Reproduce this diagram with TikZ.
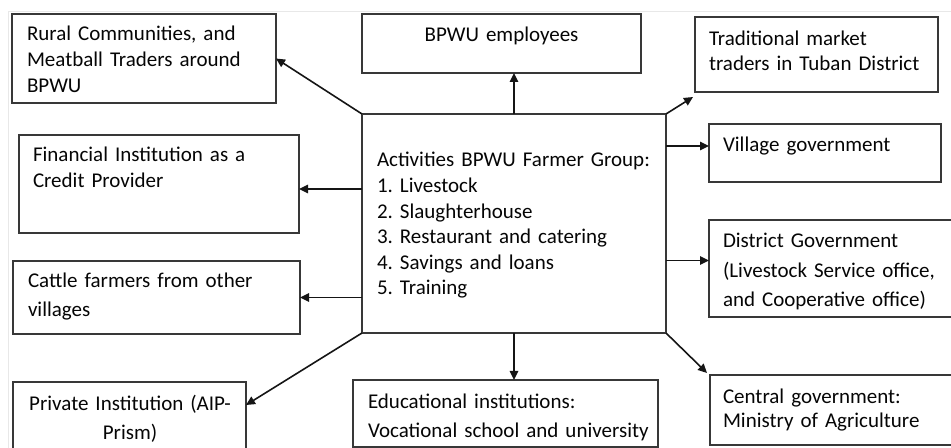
\documentclass[tikz,border=0pt]{standalone}
\usepackage{fontspec}
\setmainfont{Carlito}
\usetikzlibrary{arrows.meta,calc}
\definecolor{boxline}{HTML}{383838}
\definecolor{arrowc}{HTML}{151515}
\definecolor{inkc}{HTML}{050505}
\begin{document}
\frenchspacing
\begin{tikzpicture}[x=1bp,y=-1bp,
  box/.style={draw=boxline, line width=1.8bp, inner sep=0pt, outer sep=0pt, anchor=north west},
  lbl/.style={anchor=base west, inner sep=0pt, outer sep=0pt, align=left, text=inkc,
              text width=#1},
  clbl/.style={anchor=base, inner sep=0pt, outer sep=0pt, align=center, text=inkc,
              text width=#1},
  ls/.style={font=\fontsize{21bp}{#1}\selectfont\frenchspacing},
  arr/.style={draw=arrowc, line width=1.6bp, -{Triangle[length=9bp,width=8.5bp]}}
]
\useasboundingbox (0,0) rectangle (951,448);
\clip (0,0) rectangle (951,448);

% faint page frame
\draw[gray!18, line width=1bp] (8,448) -- (8,12) -- (951,12);

% central activity box
\node[box, minimum width=304bp, minimum height=219bp] (center) at (362,114) {};
\node[lbl=290bp, ls=25.6bp] (centertxt) at (377,167)
  {Activities BPWU Farmer Group:\\1. Livestock\\2. Slaughterhouse\\3. Restaurant and catering\\4. Savings and loans\\5. Training};

% left column
\node[box, minimum width=264bp, minimum height=89bp] (rural) at (12,14) {};
\node[lbl=245bp, ls=26bp] (ruraltxt) at (27,41)
  {Rural Communities, and\\Meatball Traders around\\BPWU};

\node[box, minimum width=280bp, minimum height=98bp] (fin) at (19,135) {};
\node[lbl=260bp, ls=26bp] (fintxt) at (33,162)
  {Financial Institution as a\\Credit Provider};

\node[box, minimum width=287bp, minimum height=73bp] (cattle) at (13,261) {};
\node[lbl=270bp, ls=29bp] (cattletxt) at (28,288)
  {Cattle farmers from other\\villages};

\node[box, minimum width=233bp, minimum height=80bp] (priv) at (13,382) {};
\node[clbl=230bp, ls=29bp] (privtxt) at (130,410)
  {Private Institution (AIP-\\Prism)};

% middle column
\node[box, minimum width=279bp, minimum height=59bp] (emp) at (362,14) {};
\node[clbl=270bp, ls=26bp] (emptxt) at (501.5,42) {BPWU employees};

\node[box, minimum width=305bp, minimum height=67bp] (edu) at (353,380) {};
\node[lbl=290bp, ls=29bp] (edutxt) at (368,408)
  {Educational institutions:\\Vocational school and university};

% right column
\node[box, minimum width=243bp, minimum height=75bp] (trad) at (695,17) {};
\node[lbl=230bp, ls=24.7bp] (tradtxt) at (709,46)
  {Traditional market\\traders in Tuban District};

\node[box, minimum width=232bp, minimum height=58bp] (village) at (709,124) {};
\node[lbl=215bp, ls=26bp] (villagetxt) at (723,152) {Village government};

\node[box, minimum width=260bp, minimum height=97bp] (district) at (709,220) {};
\node[lbl=235bp, ls=29.5bp] (districttxt) at (723,248)
  {District Government\\(Livestock Service office,\\and Cooperative office)};

\node[box, minimum width=260bp, minimum height=70bp] (central) at (710,375) {};
\node[lbl=235bp, ls=24.5bp] (centraltxt) at (723,403)
  {Central government:\\Ministry of Agriculture};

% connectors
\draw[arr] (center.north west) -- (rural.east);
\draw[arr] (center.north) -- (center.north |- emp.south);
\draw[arr] (center.north east) -- ($(trad.south west)+(-2,5)$);
\draw[arr] ($(center.north east)+(0,32)$) -- ($(village.west)+(0,-7)$);
\draw[arr] ($(center.west |- fin.east)+(0,5)$) -- ($(fin.east)+(0,5)$);
\draw[arr] (center.west |- cattle.east) -- (cattle.east);
\draw[arr] ($(center.east |- district.west)+(0,-8)$) -- ($(district.west)+(0,-8)$);
\draw[arr] (center.south west) -- ($(priv.north east)+(0,23)$);
\draw[arr] (center.south) -- (center.south |- edu.north);
\draw[arr] (center.south east) -- ($(central.north west)+(-3,-2)$);
\end{tikzpicture}
\end{document}
